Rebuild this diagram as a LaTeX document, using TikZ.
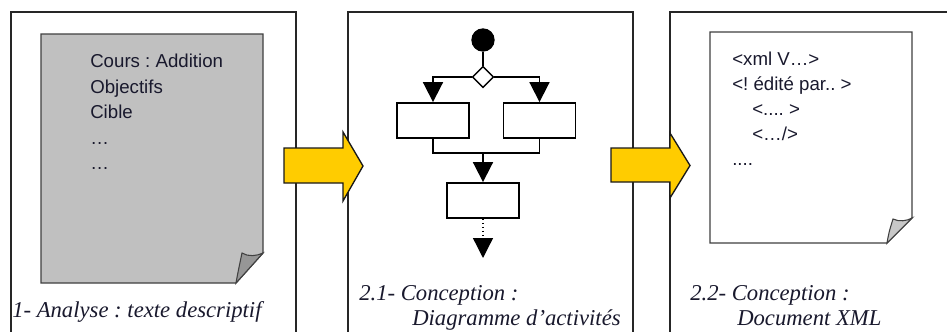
\documentclass[tikz,border=0pt]{standalone}
\usepackage{fontspec}
\setmainfont{Liberation Serif}
\setsansfont{Liberation Sans}
\usetikzlibrary{shapes.geometric,arrows.meta}
\frenchspacing
\definecolor{txt}{RGB}{25,25,45}
\definecolor{pagegray}{RGB}{192,192,192}
\definecolor{curldark}{RGB}{150,150,150}
\definecolor{curllight}{RGB}{200,200,200}
\definecolor{arrowyellow}{RGB}{255,204,0}
\tikzset{
  frame/.style={line width=1.1pt, draw=black!85},
  pageshape/.style={line width=1pt, draw=black!75},
  bigarrow/.style={fill=arrowyellow, draw=black!90, line width=1pt, line join=miter},
  sanstext/.style={font=\sffamily\fontsize{14}{19.1}\selectfont, text=txt, anchor=base west, inner sep=0pt},
  captext/.style={font=\itshape\fontsize{17}{19}\selectfont, text=txt, anchor=base west, inner sep=0pt},
  actbox/.style={draw=black, line width=1.4pt, fill=white, minimum width=54pt, minimum height=26.25pt, inner sep=0pt},
  flow/.style={line width=1.4pt, -{Triangle[width=15pt,length=15pt]}},
  plain/.style={line width=1.4pt},
}
\begin{document}
\begin{tikzpicture}[x=0.75pt,y=-0.75pt]
\useasboundingbox (0,0) rectangle (947,332);
\clip (0,0) rectangle (947,332);
\fill[white] (0,0) rectangle (947,332);

% panel frames
\draw[frame] (11,340) -- (11,12) -- (296,12) -- (296,340);
\draw[frame] (348,340) -- (348,12) -- (633,12) -- (633,340);
\draw[frame] (670,340) -- (670,12) -- (955,12);

% page 1 (gray)
\filldraw[pageshape, fill=pagegray] (41,34) -- (263,34) -- (263,253) -- (236,283) -- (41,283) -- cycle;
\filldraw[pageshape, fill=curldark, line width=0.8pt] (242,253) .. controls (248,257) and (257,256) .. (263,253) -- (236,283) .. controls (238,272) .. (242,253) -- cycle;
\node[sanstext] (t1) at (90,67) {Cours : Addition};
\node[sanstext] (t2) at (90,93) {Objectifs};
\node[sanstext] (t3) at (90,118) {Cible};
\node[sanstext] (t4) at (90,144) {\dots};
\node[sanstext] (t5) at (90,169) {\dots};

% page 3 (white)
\filldraw[pageshape, fill=white] (710,32) -- (912,32) -- (912,218) -- (887,243) -- (710,243) -- cycle;
\filldraw[pageshape, fill=curllight, line width=0.8pt] (893,219) .. controls (899,222) and (907,221) .. (912,218) -- (887,243) .. controls (889,232) .. (893,219) -- cycle;
\node[sanstext] (x1) at (732,65) {<xml V\dots>};
\node[sanstext] (x2) at (732,90) {<! édité par.. >};
\node[sanstext] (x3) at (752,115) {<.... >};
\node[sanstext] (x4) at (752,140) {<\dots/>};
\node[sanstext] (x5) at (732,165) {....};

% activity diagram
\node[circle, fill=black, minimum size=17.5pt, inner sep=0pt] (start) at (483,40) {};
\node[diamond, draw=black, fill=white, line width=1.1pt, minimum width=16pt, minimum height=16pt, inner sep=0pt] (dec) at (483,77) {};
\node[actbox] (b1) at (433,120.5) {};
\node[actbox] (b2) at (539.5,120.5) {};
\node[actbox] (b3) at (483,200.5) {};
\coordinate (join) at (483,153);
\coordinate (endpt) at (483,258);
\draw[plain] (start) -- (dec);
\draw[flow] (dec.west) -| (b1.north);
\draw[flow] (dec.east) -| (b2.north);
\draw[plain] (b1.south) |- (join) -| (b2.south);
\draw[flow] (join) -- (b3.north);
\draw[line width=1pt, dotted, -{Triangle[width=15pt,length=15pt]}] (b3.south) -- (endpt);

% big arrows
\filldraw[bigarrow] (284,148) -- (343,148) -- (343,132) -- (363,166) -- (343,201) -- (343,183) -- (284,183) -- cycle;
\filldraw[bigarrow] (611,148) -- (670,148) -- (670,133) -- (690,165.5) -- (670,198) -- (670,182) -- (611,182) -- cycle;

% captions
\node[captext] (c1) at (12,317) {1- Analyse : texte descriptif};
\node[captext] (c2a) at (359,300) {2.1- Conception :};
\node[captext] (c2b) at (412,325) {Diagramme d'activités};
\node[captext] (c3a) at (690,300) {2.2- Conception :};
\node[captext] (c3b) at (737,325) {Document XML};
\end{tikzpicture}
\end{document}
